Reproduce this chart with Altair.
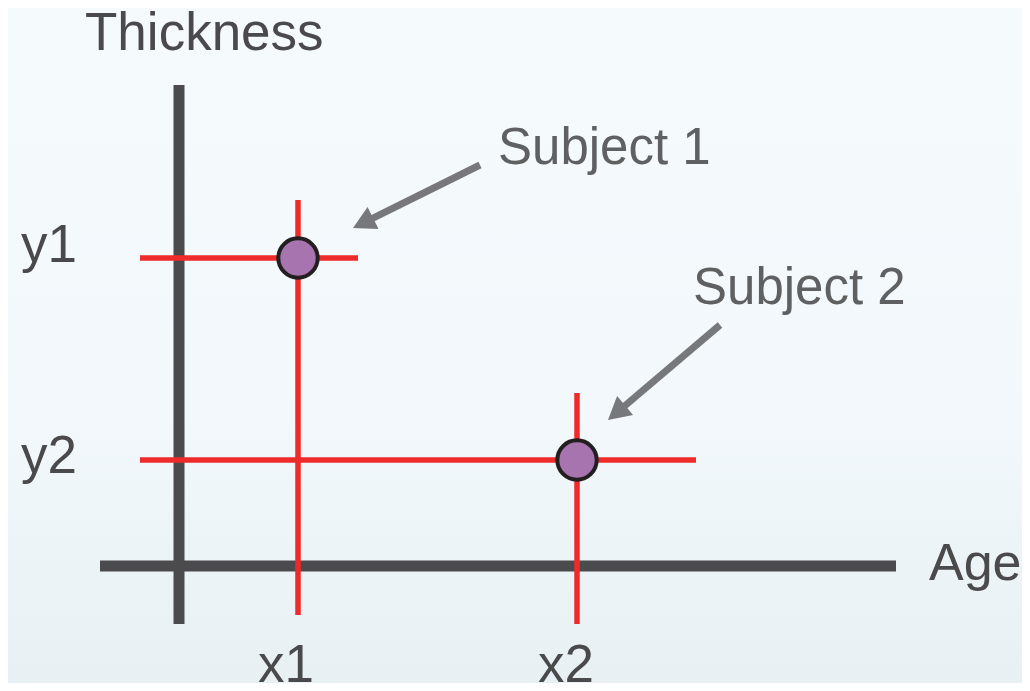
import math
import altair as alt
import pandas as pd

# ---- data (diagram units: 1 unit = 10 px, origin at the axes' crossing) ----
subjects = ["Subject 1", "Subject 2"]
age = [11.9, 39.8]            # x1, x2
thickness = [30.8, 10.6]      # y1, y2

# crosshair extents for each subject
v_top = [36.6, 17.3]
v_bottom = [-4.9, -5.8]
h_left = [-3.9, -3.9]
h_right = [17.9, 51.7]

# axis lines
yaxis_age = 0.0
yaxis_from, yaxis_to = -5.8, 48.1
xaxis_thick = 0.0
xaxis_from, xaxis_to = -7.9, 71.7

# annotation arrows (start -> tip)
arrow_start_age = [30.1, 54.1]
arrow_start_thk = [40.1, 24.1]
arrow_tip_age = [17.4, 42.9]
arrow_tip_thk = [33.8, 14.6]

# labels
label_text = ["Thickness", "y1", "y2", "x1", "x2", "Age"]
label_age = [-9.4, -15.8, -15.8, 7.9, 35.9, 75.0]
label_thk = [51.6, 30.4, 9.3, -11.6, -11.6, -1.4]
label_size = [53, 53, 53, 53, 53, 52]
subj_label_age = [31.9, 51.4]
subj_label_thk = [40.2, 26.2]

W, H = 1014, 675
XD = [-17.1, 84.3]
YD = [-11.7, 55.8]
FONT = "Liberation Sans"

xs = alt.Scale(domain=XD, nice=False, zero=False)
ys = alt.Scale(domain=YD, nice=False, zero=False)


def X(f="x"):
    return alt.X(f"{f}:Q", scale=xs, axis=None)


def Y(f="y"):
    return alt.Y(f"{f}:Q", scale=ys, axis=None)


# background gradient
bg = alt.Chart(pd.DataFrame({"a": [0]})).mark_rect(
    color=alt.Gradient(
        gradient="linear",
        stops=[alt.GradientStop(color="#f5fafd", offset=0),
               alt.GradientStop(color="#f2f8fb", offset=0.6),
               alt.GradientStop(color="#e8f0f4", offset=1)],
        x1=0, x2=0, y1=0, y2=1,
    )
).encode(x=alt.value(0), x2=alt.value(W), y=alt.value(0), y2=alt.value(H))

axes_df = pd.DataFrame({
    "x": [yaxis_age, xaxis_from],
    "x2": [yaxis_age, xaxis_to],
    "y": [yaxis_from, xaxis_thick],
    "y2": [yaxis_to, xaxis_thick],
})
axes = alt.Chart(axes_df).mark_rule(color="#4b4b4d", strokeWidth=11, strokeCap="butt").encode(
    x=X(), x2="x2:Q", y=Y(), y2="y2:Q")

red_rows = []
for i in range(len(subjects)):
    red_rows.append({"x": age[i], "x2": age[i], "y": v_bottom[i], "y2": v_top[i]})
    red_rows.append({"x": h_left[i], "x2": h_right[i], "y": thickness[i], "y2": thickness[i]})
red = alt.Chart(pd.DataFrame(red_rows)).mark_rule(color="#ee2a2a", strokeWidth=5.5, strokeCap="butt").encode(
    x=X(), x2="x2:Q", y=Y(), y2="y2:Q")

pts = alt.Chart(pd.DataFrame({"x": age, "y": thickness, "s": subjects})).mark_point(
    shape="circle", filled=True, fill="#a874b0", stroke="#231f20", strokeWidth=4,
    size=1550, opacity=1, fillOpacity=1, strokeOpacity=1).encode(x=X(), y=Y())

# arrows
HEAD_LEN = 1.5  # units back from tip where shaft ends
arr_rows = []
for i in range(len(subjects)):
    dx = arrow_tip_age[i] - arrow_start_age[i]
    dy = arrow_tip_thk[i] - arrow_start_thk[i]
    d = math.hypot(dx, dy)
    ux, uy = dx / d, dy / d
    ang = math.degrees(math.atan2(dx, dy)) % 360  # screen: clockwise from up
    arr_rows.append({
        "x": arrow_start_age[i], "y": arrow_start_thk[i],
        "x2": arrow_tip_age[i] - ux * HEAD_LEN, "y2": arrow_tip_thk[i] - uy * HEAD_LEN,
        "tx": arrow_tip_age[i], "ty": arrow_tip_thk[i], "ang": ang,
    })
arr_df = pd.DataFrame(arr_rows)
shafts = alt.Chart(arr_df).mark_rule(color="#77787b", strokeWidth=7, strokeCap="butt").encode(
    x=X(), x2="x2:Q", y=Y(), y2="y2:Q")
heads = alt.Chart(arr_df).mark_point(
    shape="M0,0L0.55,1L-0.55,1Z", filled=True, color="#77787b", size=2007, opacity=1
).encode(x=X("tx"), y=Y("ty"), angle=alt.Angle("ang:Q", scale=None))

labels = alt.Chart(pd.DataFrame({"x": label_age, "y": label_thk, "t": label_text,
                                 "fs": label_size})).mark_text(
    font=FONT, color="#4a4a4c", align="left", baseline="alphabetic"
).encode(x=X(), y=Y(), text="t:N", size=alt.Size("fs:Q", scale=None, legend=None))

subj_labels = alt.Chart(pd.DataFrame({"x": subj_label_age, "y": subj_label_thk, "t": subjects})).mark_text(
    font=FONT, fontSize=51, color="#5f6062", align="left", baseline="alphabetic"
).encode(x=X(), y=Y(), text="t:N")

chart = alt.layer(bg, axes, red, pts, shafts, heads, labels, subj_labels).properties(
    width=W, height=H, padding=0, autosize=alt.AutoSizeParams(type="none"),
    background="#f5fafd",
).configure_view(stroke=None)

chart.save("out.html", embed_options={"renderer": "svg", "actions": False})
